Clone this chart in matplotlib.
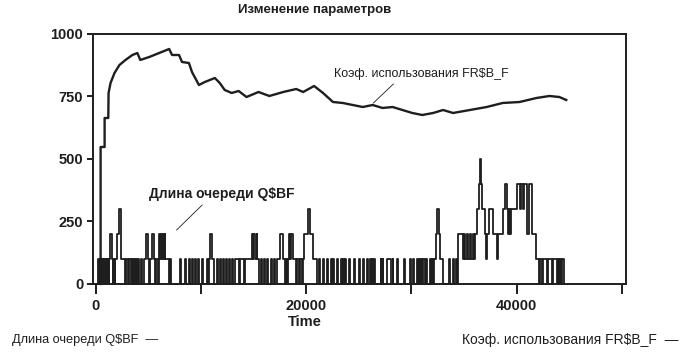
import matplotlib
matplotlib.use("Agg")
import matplotlib.pyplot as plt

# utilization curve FR$B_F
util_time = [470, 470, 850, 850, 1200, 1226, 1415, 1790, 2260, 2830, 3490, 3960, 4240, 5090,
             6035, 6980, 7260, 7920, 8200, 8860, 9150, 9810, 10370, 11320, 11790, 12260,
             12920, 13580, 14330, 15470, 16500, 17820, 19050, 19710, 20750, 21600, 22540,
             23480, 24420, 25370, 26310, 27250, 28200, 29140, 30080, 31020, 32060, 33000,
             33950, 35550, 37150, 38660, 40270, 41870, 43100, 44040, 44700]
util_value = [0, 548, 548, 664, 664, 764, 804, 844, 876, 896, 916, 924, 896, 908,
              924, 940, 916, 916, 888, 884, 848, 796, 808, 824, 804, 776,
              764, 772, 748, 768, 752, 768, 780, 768, 792, 764, 728,
              724, 716, 708, 716, 704, 708, 696, 684, 676, 684, 696,
              684, 696, 708, 724, 728, 744, 752, 748, 736]

# queue length Q$BF, step changes (time, new value)
queue_time = [0, 190, 280, 380, 470, 570, 660, 700, 800, 850, 940, 990, 1080, 1130, 1230, 1280,
              1320, 1510, 1600, 1650, 1790, 1840, 2070, 2220, 2360, 2450,
              2800, 2880, 3110, 3200, 3400, 3490, 3590, 3680, 3780, 3870, 3960, 4050, 4150, 4340, 4430, 4620,
              4810, 4950, 5100, 5190, 5380, 5500, 5650, 5750, 5900, 5990,
              6040, 6130, 6200, 6320, 6380, 6510, 6550, 6600, 6980,
              7070, 7160, 8010, 8110, 8490, 8580, 8870, 8960, 9150, 9240, 9430, 9520, 9710, 9800,
              10090, 10180, 10560, 10650,
              10750, 10900, 11030, 11220,
              11500, 11590, 11790, 11880, 12070, 12160, 12350, 12450, 12640, 12730, 12920, 13010,
              13200, 13580, 13670, 14050, 14140,
              14810, 14900, 14990, 15180, 15280, 15370, 15470,
              15750, 15840, 16030, 16120, 16310, 16400, 16690, 16780, 16970, 17060,
              17250, 17540, 17820, 18010, 18110, 18200, 18300,
              18390, 18490, 18580, 18770,
              19050, 19150, 19330, 19430, 19610, 19710,
              19800, 20180, 20370, 20650, 21030,
              21220, 21310, 21590, 21680, 21970, 22060, 22350, 22440, 22540, 22630, 22910, 23000,
              23290, 23380, 23480, 23570, 23670, 23760, 24050, 24140, 24520, 24610, 24990, 25080,
              25370, 25460, 25740, 25830, 26030, 26120, 26220, 26310, 26400, 26490, 27060, 27150,
              27250, 27340, 27630, 28010, 28200, 28290, 28670, 28760, 29330, 29420, 29890, 29980,
              30180, 30270,
              30550, 30640, 30740, 30840, 30930, 31030, 31120, 31310, 31400, 31500,
              31780, 31880, 31970, 32070, 32160, 32350, 32440, 32630, 32720, 33000,
              33570, 33660, 33950, 34040, 34230, 34320,
              34420, 34890, 34980, 35080, 35270, 35360, 35550, 35640, 35830, 35930, 36020,
              36210, 36400, 36540, 36640, 36680, 36970, 37060, 37150, 37340, 37720,
              38100, 38190, 38660, 38850, 39040, 39130, 39230, 39320, 39420,
              39980, 40270, 40360, 40550, 40650, 40930, 41120, 41210, 41490, 41870,
              42150, 42240, 42430, 42530, 42900, 43000, 43380, 43480, 43850, 43950,
              44040, 44130, 44230, 44320, 44510]
queue_len = [0, 100, 0, 100, 0, 100, 0, 100, 0, 100, 0, 100, 0, 100, 0, 100,
             200, 100, 0, 100, 0, 100, 200, 300, 200, 100,
             0, 100, 0, 100, 0, 100, 0, 100, 0, 100, 0, 100, 0, 100, 0, 100,
             200, 100, 0, 100, 200, 100, 0, 100, 0, 100,
             200, 100, 200, 100, 200, 100, 200, 100, 0,
             100, 0, 100, 0, 100, 0, 100, 0, 100, 0, 100, 0, 100, 0,
             100, 0, 100, 0,
             100, 200, 100, 0,
             100, 0, 100, 0, 100, 0, 100, 0, 100, 0, 100, 0,
             100, 0, 100, 0, 100,
             200, 100, 200, 100, 200, 100, 0,
             100, 0, 100, 0, 100, 0, 100, 0, 100, 0,
             100, 200, 100, 0, 100, 0, 100,
             200, 100, 200, 100,
             0, 100, 0, 100, 0, 100,
             200, 300, 200, 100, 0,
             100, 0, 100, 0, 100, 0, 100, 0, 100, 0, 100, 0,
             100, 0, 100, 0, 100, 0, 100, 0, 100, 0, 100, 0,
             100, 0, 100, 0, 100, 0, 100, 0, 100, 0, 100, 0,
             100, 0, 100, 0, 100, 0, 100, 0, 100, 0, 100, 0,
             100, 0,
             100, 0, 100, 0, 100, 0, 100, 0, 100, 0,
             100, 0, 100, 0, 100, 200, 300, 200, 100, 0,
             100, 0, 100, 0, 100, 0,
             200, 100, 200, 100, 200, 100, 200, 100, 200, 100, 200,
             300, 400, 500, 400, 300, 200, 100, 200, 300, 200,
             100, 200, 300, 400, 300, 200, 300, 200, 300,
             400, 300, 400, 300, 400, 200, 300, 400, 200, 100,
             0, 100, 0, 100, 0, 100, 0, 100, 0, 100,
             0, 100, 0, 100, 0]

x_ticks = [0, 10000, 20000, 30000, 40000, 50000]
x_labels = ["0", "", "20000", "", "40000", ""]
y_ticks = [0, 250, 500, 750, 1000]

ink = "#1e1e1e"
fam = ["Liberation Sans", "DejaVu Sans"]
plt.rcParams["font.family"] = fam

fig = plt.figure(figsize=(6.83, 3.53), dpi=100)
ax = fig.add_axes([0.1362, 0.1955, 0.7804, 0.7082])

ax.step(queue_time, queue_len, where="post", color=ink, lw=1.3, clip_on=False)
ax.plot(util_time, util_value, color=ink, lw=1.7, clip_on=False)

ax.set_xlim(-250, 50380)
ax.set_ylim(0, 1000)
ax.set_xticks(x_ticks)
ax.set_xticklabels(x_labels)
ax.set_yticks(y_ticks)
for s in ax.spines.values():
    s.set_linewidth(1.4)
    s.set_color(ink)
ax.tick_params(axis="x", direction="out", length=7, width=1.4, pad=4, colors=ink, labelsize=10.5)
ax.tick_params(axis="y", direction="out", length=4, width=1.4, pad=3, colors=ink, labelsize=10.5)
for lab in ax.get_xticklabels() + ax.get_yticklabels():
    lab.set_fontweight("bold")

# callouts inside the plot
ax.text(22600, 840, "Коэф. использования FR\\$B_F", fontsize=9, color=ink, va="center")
ax.plot([28280, 26380], [800, 724], color=ink, lw=0.6)
ax.text(5030, 360, "Длина очереди Q\\$BF", fontsize=10, color=ink, va="center",
        fontweight="bold")
ax.plot([10120, 7690], [316, 216], color=ink, lw=0.6)

fig.text(315 / 683, 1 - 10 / 353, "Изменение параметров", ha="center", va="center",
         fontsize=9.5, color=ink, fontweight="bold")
fig.text(305 / 683, 1 - 322 / 353, "Time", ha="center", va="center",
         fontsize=10.5, color=ink, fontweight="bold")
fig.text(12 / 683, 1 - 340 / 353, "Длина очереди Q\\$BF  —", ha="left", va="center",
         fontsize=9.2, color=ink)
fig.text(678 / 683, 1 - 340 / 353, "Коэф. использования FR\\$B_F  —", ha="right", va="center",
         fontsize=10, color=ink)

fig.savefig("out.png", dpi=100)
